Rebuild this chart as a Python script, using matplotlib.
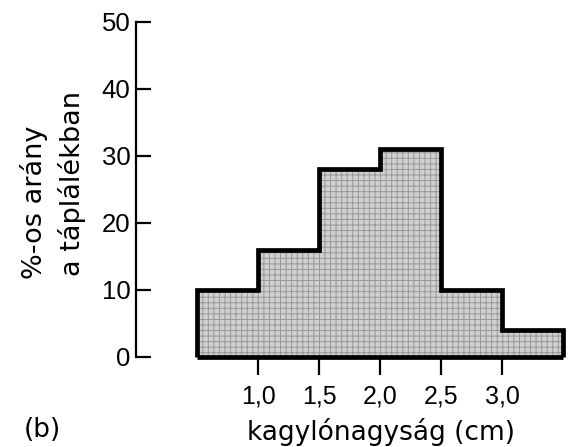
import matplotlib
matplotlib.use("Agg")
import matplotlib.pyplot as plt
import numpy as np

# data
bin_edges = [0.5, 1.0, 1.5, 2.0, 2.5, 3.0, 3.5]
percent = [10, 16, 28, 31, 10, 4]
x_ticks = [1.0, 1.5, 2.0, 2.5, 3.0]
x_tick_labels = ["1,0", "1,5", "2,0", "2,5", "3,0"]
y_ticks = [0, 10, 20, 30, 40, 50]
y_tick_labels = ["0", "10", "20", "30", "40", "50"]

plt.rcParams['hatch.linewidth'] = 0.7

fig = plt.figure(figsize=(5.69, 4.47), dpi=100)
ax = fig.add_axes([136/569, 90/447, 431/569, 335.3/447])

# filled histogram body
ax.stairs(percent, bin_edges, baseline=0, fill=True,
          facecolor='#d0d0d0', edgecolor='#989898', linewidth=0,
          hatch='+++', clip_on=False)
# outer contour
ax.stairs(percent, bin_edges, baseline=0, fill=False,
          color='black', linewidth=3.4, clip_on=False)
ax.hlines(0, bin_edges[0], bin_edges[-1], color='black', linewidth=3.4,
          clip_on=False)

ax.set_xlim(0, 3.53)
ax.set_ylim(0, 50)

for s in ['top', 'right', 'bottom']:
    ax.spines[s].set_visible(False)
ax.spines['left'].set_linewidth(1.6)
ax.spines['left'].set_bounds(0, 50)

ax.set_yticks(y_ticks)
ax.set_yticklabels(y_tick_labels, fontfamily='Liberation Sans', fontsize=18.5)
ax.set_xticks(x_ticks)
ax.set_xticklabels(x_tick_labels, fontfamily='Liberation Sans', fontsize=18)

ax.tick_params(axis='y', direction='in', length=11, width=1.6, pad=4)
ax.tick_params(axis='x', direction='out', length=13, width=1.6, pad=7)

fig.text(381/569, 1 - 432/447, "kagylónagyság (cm)", fontfamily='DejaVu Sans',
         fontsize=19, ha='center', va='center')
fig.text(34/569, 1 - 202/447, "%-os arány", fontfamily='DejaVu Sans',
         fontsize=19.5, rotation=90, ha='center', va='center')
fig.text(72/569, 1 - 183/447, "a táplálékban", fontfamily='DejaVu Sans',
         fontsize=19.5, rotation=90, ha='center', va='center')
fig.text(42/569, 1 - 430/447, "(b)", fontfamily='DejaVu Sans',
         fontsize=19, ha='center', va='center')

fig.savefig("out.png", dpi=100)
